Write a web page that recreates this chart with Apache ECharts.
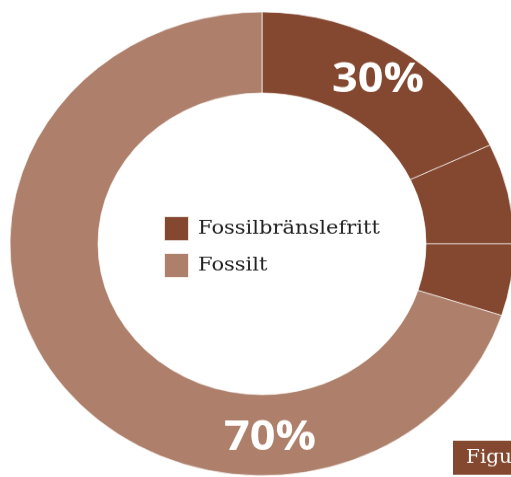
<!DOCTYPE html>
<html>
<head>
<meta charset="utf-8">
<script src="https://cdn.jsdelivr.net/npm/echarts@6/dist/echarts.min.js"></script>
<style>
  html, body { margin: 0; padding: 0; background: #fff; overflow: hidden; }
  /* the reference ring is a little flattened, so squash the whole chart vertically */
  #main { width: 511px; height: 519px; transform: scaleY(0.92); transform-origin: 0 0; }
</style>
</head>
<body>
<div id="main"></div>
<script>
// data
var sliceNames = ['Fossilbränslefritt', 'Fossilbränslefritt', 'Fossilbränslefritt', 'Fossilt'];
var sliceValues = [18, 7, 5, 70];
var groups = ['Fossilbränslefritt', 'Fossilt'];
var groupColors = ['#84472f', '#ae806b'];

var total = sliceValues.reduce(function (a, b) { return a + b; }, 0);
function groupShare(name) {
  var s = 0;
  sliceValues.forEach(function (v, i) { if (sliceNames[i] === name) s += v; });
  return Math.round(s / total * 100) + '%';
}

var myChart = echarts.init(document.getElementById('main'));

var seriesData = sliceValues.map(function (v, i) {
  var g = groups.indexOf(sliceNames[i]);
  return {
    name: sliceNames[i],
    value: v,
    itemStyle: { color: groupColors[g] },
    label: { show: i === 0 }
  };
});

var option = {
  animation: false,
  backgroundColor: '#fff',
  legend: {
    orient: 'vertical',
    left: 163,
    top: 234,
    padding: 0,
    icon: 'rect',
    itemWidth: 25,
    itemHeight: 27,
    itemGap: 11,
    selectedMode: false,
    data: groups,
    textStyle: {
      fontFamily: 'DejaVu Serif',
      fontSize: 21,
      color: '#222',
      padding: [0, 0, 0, 4]
    }
  },
  series: [
    {
      type: 'pie',
      center: [262, 265],
      radius: [164, 252],
      startAngle: 90,
      clockwise: true,
      avoidLabelOverlap: false,
      itemStyle: {
        borderColor: 'rgba(255,255,255,0.85)',
        borderWidth: 0.8
      },
      label: {
        position: 'inside',
        formatter: function () { return groupShare(groups[0]); },
        fontFamily: 'Open Sans',
        fontWeight: 'bold',
        fontSize: 45,
        color: '#fff',
        padding: [24, 0, 0, 6]
      },
      labelLine: { show: false },
      emphasis: { disabled: true },
      data: seriesData
    }
  ],
  graphic: [
    {
      type: 'text',
      z: 100,
      x: 270,
      y: 476,
      style: {
        text: groupShare(groups[1]),
        fontFamily: 'Open Sans',
        fontWeight: 'bold',
        fontSize: 45,
        fill: '#fff',
        align: 'center',
        verticalAlign: 'middle'
      }
    },
    {
      type: 'rect',
      z: 100,
      shape: { x: 453, y: 479, width: 80, height: 37 },
      style: { fill: '#84472f' }
    },
    {
      type: 'text',
      z: 101,
      x: 466,
      y: 498,
      style: {
        text: 'Figur',
        fontFamily: 'DejaVu Serif',
        fontSize: 20,
        fill: '#fff',
        verticalAlign: 'middle'
      }
    }
  ]
};

myChart.setOption(option, true);
</script>
</body>
</html>
